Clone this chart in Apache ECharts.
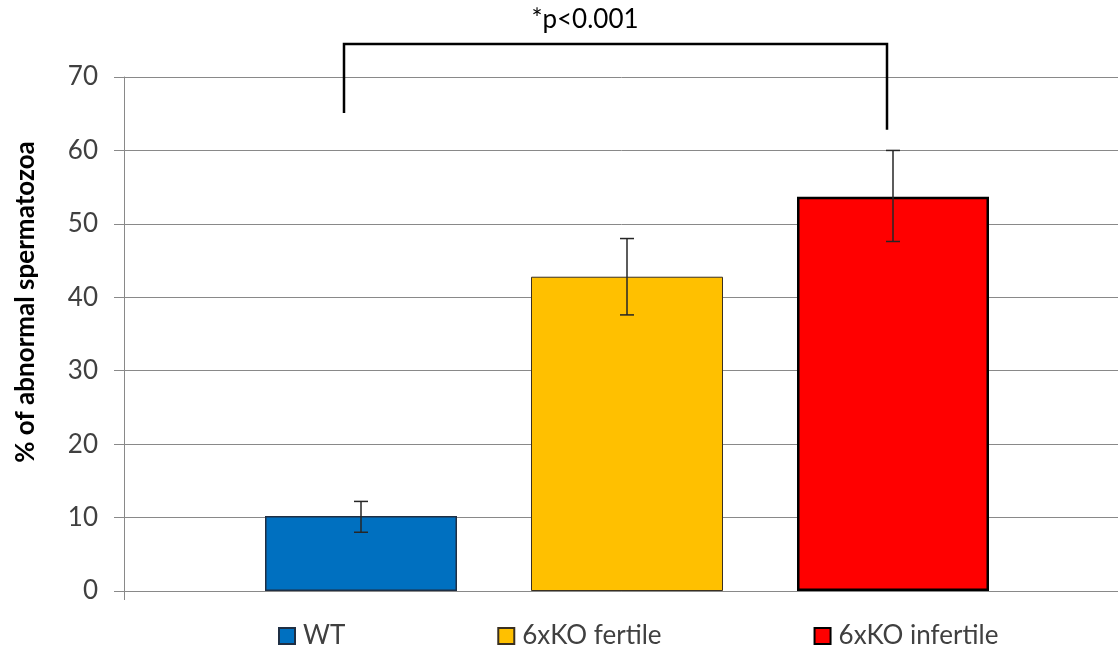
<!DOCTYPE html>
<html>
<head>
<meta charset="utf-8">
<script src="https://cdn.jsdelivr.net/npm/echarts@6/dist/echarts.min.js"></script>
<style>html,body{margin:0;padding:0;background:#fff}#c{width:1118px;height:650px}</style>
</head>
<body>
<div id="c"></div>
<script>
// ---- data ----
const categories = ['WT', '6xKO fertile', '6xKO infertile'];
const means = [10.2, 42.8, 53.7];
const errLow = [8.0, 37.6, 47.6];
const errHigh = [12.2, 48.0, 60.0];
const yTicks = { min: 0, max: 70, interval: 10 };
const annotationText = '*p<0.001';
const bracketTop = 74.5;      // y value of horizontal bracket line
const bracketLeftEnd = 65.1;  // y value where left leg ends
const bracketRightEnd = 62.8; // y value where right leg ends
const annotationY = 77.8;     // y value of annotation text centre

// ---- styles ----
const FONT = 'Lato';
const colors = ['#0070C0', '#FFC000', '#FF0000'];
const borders = [{c:'#1F2F44', w:1.5}, {c:'#3A3020', w:1}, {c:'#000000', w:2.5}];
const BAR_W = 192, BAR_GAP = 74;
const STEP = BAR_W + BAR_GAP;

const chart = echarts.init(document.getElementById('c'), null, {renderer: 'canvas'});

const barSeries = categories.map((name, i) => ({
  name: name,
  type: 'bar',
  data: [means[i]],
  barWidth: BAR_W,
  barGap: (BAR_GAP / BAR_W * 100) + '%',
  itemStyle: { color: colors[i], borderColor: borders[i].c, borderWidth: borders[i].w },
  emphasis: { disabled: true },
  z: 2
}));

const errSeries = {
  type: 'custom',
  clip: false,
  z: 5,
  silent: true,
  data: errLow.map((lo, i) => [0, lo, errHigh[i], i]),
  renderItem: function (params, api) {
    const idx = api.value(3);
    const off = (idx - 1) * STEP;
    const lo = api.coord([0, api.value(1)]);
    const hi = api.coord([0, api.value(2)]);
    const x = lo[0] + off;
    const cap = 7;
    const st = { stroke: '#262626', lineWidth: 1.5 };
    return {
      type: 'group',
      children: [
        { type: 'line', shape: { x1: x, y1: lo[1], x2: x, y2: hi[1] }, style: st },
        { type: 'line', shape: { x1: x - cap, y1: lo[1], x2: x + cap, y2: lo[1] }, style: st },
        { type: 'line', shape: { x1: x - cap, y1: hi[1], x2: x + cap, y2: hi[1] }, style: st }
      ]
    };
  }
};

const bracketSeries = {
  type: 'custom',
  clip: false,
  z: 6,
  silent: true,
  data: [[0, bracketTop, bracketLeftEnd, bracketRightEnd, annotationY]],
  renderItem: function (params, api) {
    const top = api.coord([0, api.value(1)]);
    const le = api.coord([0, api.value(2)]);
    const re = api.coord([0, api.value(3)]);
    const ty = api.coord([0, api.value(4)]);
    const cx = top[0];
    const xl = cx - STEP - 17;
    const xr = cx + STEP - 6;
    return {
      type: 'group',
      children: [
        { type: 'polyline', shape: { points: [[xl, le[1]], [xl, top[1]], [xr, top[1]], [xr, re[1]]] },
          style: { stroke: '#000', lineWidth: 2.5, fill: null } },
        { type: 'text', x: cx - 42, y: ty[1],
          style: { text: annotationText, fill: '#000', font: '26px ' + FONT, align: 'center', verticalAlign: 'middle' } }
      ]
    };
  }
};

chart.setOption({
  animation: false,
  backgroundColor: '#fff',
  grid: { left: 124, right: -12, top: 77, bottom: 59, containLabel: false, outerBoundsMode: 'none' },
  legend: {
    data: categories,
    left: 278,
    top: 623,
    padding: 0,
    itemWidth: 16,
    itemHeight: 16,
    itemGap: 152,
    icon: 'rect',
    selectedMode: false,
    textStyle: { fontFamily: FONT, fontSize: 26, color: '#404040', padding: [0, 0, 0, 3] }
  },
  xAxis: {
    type: 'category',
    data: [''],
    axisLine: { show: true, lineStyle: { color: '#898989', width: 1 } },
    axisTick: { show: true, length: 9, lineStyle: { color: '#898989' } },
    axisLabel: { show: false },
    splitLine: { show: false }
  },
  yAxis: {
    type: 'value',
    min: yTicks.min, max: yTicks.max, interval: yTicks.interval,
    axisLine: { show: true, lineStyle: { color: '#898989', width: 1 } },
    axisTick: { show: true, length: 10, lineStyle: { color: '#898989' } },
    axisLabel: { margin: 26, fontFamily: FONT, fontSize: 26, color: '#404040' },
    splitLine: { show: true, lineStyle: { color: '#898989', width: 1 } }
  },
  graphic: [{
    type: 'text',
    x: 26, y: 302,
    rotation: Math.PI / 2,
    style: { text: '% of abnormal spermatozoa', font: 'bold 26px ' + FONT, fill: '#000', align: 'center', verticalAlign: 'middle' }
  }],
  series: barSeries.concat([errSeries, bracketSeries])
});
</script>
</body>
</html>
